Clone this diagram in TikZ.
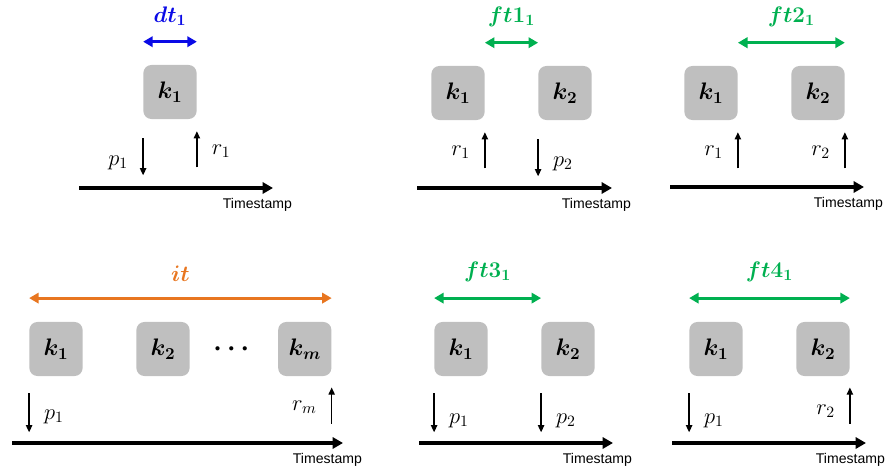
\documentclass[tikz,border=0pt]{standalone}
\usepackage{fix-cm}
\usepackage{amsmath, amssymb}
\usepackage{fontspec}
\newfontfamily\stampfont{Liberation Sans}
\usetikzlibrary{positioning,arrows.meta,calc}
\definecolor{KeyGray}{RGB}{191,191,191}
\definecolor{DtBlue}{RGB}{10,10,230}
\definecolor{FtGreen}{RGB}{0,176,80}
\definecolor{ItOrange}{RGB}{232,118,32}

\begin{document}
\begin{tikzpicture}[
    x=0.025cm, y=-0.025cm,
    node distance=1.33cm,
    key/.style={rectangle, rounded corners=2mm, fill=KeyGray, minimum width=1.33cm,
        minimum height=1.35cm, inner sep=0pt, font=\fontsize{17}{20}\selectfont},
    span/.style={line width=2pt, {Triangle[length=2.4mm,width=2.6mm]}-{Triangle[length=2.4mm,width=2.6mm]}},
    spanlabel/.style={midway, above=3.7mm, inner sep=0pt, font=\fontsize{16}{19}\selectfont},
    axis/.style={line width=2.4pt, -{Triangle[length=2.6mm,width=2.8mm]}},
    stamp/.style={anchor=north east, inner sep=0pt, xshift=4.8mm, yshift=-2.5mm,
        font=\stampfont\fontsize{10}{12}\selectfont},
    evt/.style={line width=0.9pt, -{Triangle[length=1.8mm,width=1.6mm]}},
    evtlabel/.style={inner sep=0pt, font=\fontsize{16}{19}\selectfont},
]
\useasboundingbox (0,0) rectangle (887,473);

% dt
\node[key] (a1) at (170,92) {$\boldsymbol{k_1}$};
\draw[span, DtBlue] ([yshift=5.75mm]a1.north west) -- ([yshift=5.75mm]a1.north east)
    node[spanlabel] (a-title) {$\boldsymbol{dt_1}$};
\coordinate (a-start) at (79,188);
\coordinate (a-end) at (273,188);
\draw[axis] (a-start) -- (a-end);
\node[stamp] (a-stamp) at (a-end) {Timestamp};
\draw[evt] ([yshift=-4.75mm]a1.south west) -- ([yshift=-14mm]a1.south west)
    node[evtlabel, pos=0.65, left=3.6mm] {$p_1$};
\draw[evt] ([yshift=-12mm]a1.south east) -- ([yshift=-3mm]a1.south east)
    node[evtlabel, pos=0.45, right=3.6mm] {$r_1$};

% ft1
\node[key] (b1) at (458,93) {$\boldsymbol{k_1}$};
\node[key, right=of b1] (b2) {$\boldsymbol{k_2}$};
\draw[span, FtGreen] ([yshift=5.75mm]b1.north east) -- ([yshift=5.75mm]b2.north west)
    node[spanlabel] (b-title) {$\boldsymbol{ft1_1}$};
\coordinate (b-start) at (417,188);
\coordinate (b-end) at (612,188);
\draw[axis] (b-start) -- (b-end);
\node[stamp] (b-stamp) at (b-end) {Timestamp};
\draw[evt] ([yshift=-12mm]b1.south east) -- ([yshift=-3mm]b1.south east)
    node[evtlabel, pos=0.45, left=3.6mm] {$r_1$};
\draw[evt] ([yshift=-4.75mm]b2.south west) -- ([yshift=-14mm]b2.south west)
    node[evtlabel, pos=0.65, right=3.6mm] {$p_2$};

% ft2
\node[key] (c1) at (711,93) {$\boldsymbol{k_1}$};
\node[key, right=of c1] (c2) {$\boldsymbol{k_2}$};
\draw[span, FtGreen] ([yshift=5.75mm]c1.north east) -- ([yshift=5.75mm]c2.north east)
    node[spanlabel] (c-title) {$\boldsymbol{ft2_1}$};
\coordinate (c-start) at (670,187);
\coordinate (c-end) at (864,187);
\draw[axis] (c-start) -- (c-end);
\node[stamp] (c-stamp) at (c-end) {Timestamp};
\draw[evt] ([yshift=-12mm]c1.south east) -- ([yshift=-3mm]c1.south east)
    node[evtlabel, pos=0.45, left=3.6mm] {$r_1$};
\draw[evt] ([yshift=-12mm]c2.south east) -- ([yshift=-3mm]c2.south east)
    node[evtlabel, pos=0.45, left=3.6mm] {$r_2$};

% it
\node[key] (d1) at (56,349) {$\boldsymbol{k_1}$};
\node[key, right=of d1] (d2) {$\boldsymbol{k_2}$};
\node[key, right=2.2cm of d2] (d3) {$\boldsymbol{k_m}$};
\node[font=\fontsize{19}{22}\selectfont] (dots) at ($(d2.east)!0.5!(d3.west)$) {$\boldsymbol{\cdots}$};
\draw[span, ItOrange] ([yshift=5.9mm]d1.north west) -- ([yshift=5.9mm]d3.north east)
    node[spanlabel] (d-title) {$\boldsymbol{it}$};
\coordinate (d-start) at (12,443);
\coordinate (d-end) at (343,443);
\draw[axis] (d-start) -- (d-end);
\node[stamp] (d-stamp) at (d-end) {Timestamp};
\draw[evt] ([yshift=-4.3mm]d1.south west) -- ([yshift=-14mm]d1.south west)
    node[evtlabel, pos=0.6, right=3.6mm] {$p_1$};
\draw[evt] ([yshift=-11.8mm]d3.south east) -- ([yshift=-2.8mm]d3.south east)
    node[evtlabel, pos=0.45, left=3.6mm] {$r_m$};

% ft3
\node[key] (e1) at (461,349) {$\boldsymbol{k_1}$};
\node[key, right=of e1] (e2) {$\boldsymbol{k_2}$};
\draw[span, FtGreen] ([yshift=5.9mm]e1.north west) -- ([yshift=5.9mm]e2.north west)
    node[spanlabel] (e-title) {$\boldsymbol{ft3_1}$};
\coordinate (e-start) at (419,443);
\coordinate (e-end) at (613,443);
\draw[axis] (e-start) -- (e-end);
\node[stamp] (e-stamp) at (e-end) {Timestamp};
\draw[evt] ([yshift=-4.3mm]e1.south west) -- ([yshift=-14mm]e1.south west)
    node[evtlabel, pos=0.7, right=3.6mm] {$p_1$};
\draw[evt] ([yshift=-4.3mm]e2.south west) -- ([yshift=-14mm]e2.south west)
    node[evtlabel, pos=0.7, right=3.6mm] {$p_2$};

% ft4
\node[key] (f1) at (716,349) {$\boldsymbol{k_1}$};
\node[key, right=of f1] (f2) {$\boldsymbol{k_2}$};
\draw[span, FtGreen] ([yshift=5.9mm]f1.north west) -- ([yshift=5.9mm]f2.north east)
    node[spanlabel] (f-title) {$\boldsymbol{ft4_1}$};
\coordinate (f-start) at (672,443);
\coordinate (f-end) at (866,443);
\draw[axis] (f-start) -- (f-end);
\node[stamp] (f-stamp) at (f-end) {Timestamp};
\draw[evt] ([yshift=-4.3mm]f1.south west) -- ([yshift=-14mm]f1.south west)
    node[evtlabel, pos=0.7, right=3.6mm] {$p_1$};
\draw[evt] ([yshift=-11.8mm]f2.south east) -- ([yshift=-2.8mm]f2.south east)
    node[evtlabel, pos=0.35, left=3.6mm] {$r_2$};
\end{tikzpicture}
\end{document}
